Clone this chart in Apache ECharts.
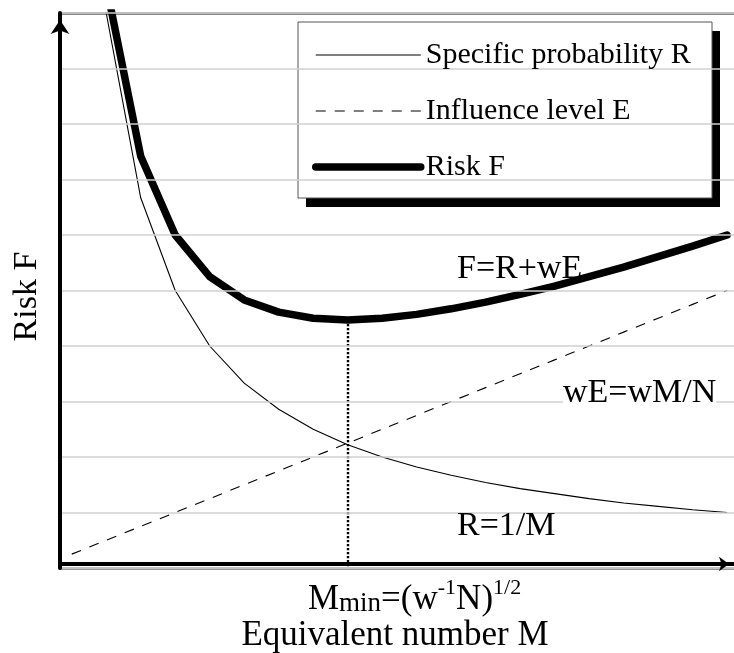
<!DOCTYPE html>
<html>
<head>
<meta charset="utf-8">
<script src="https://cdn.jsdelivr.net/npm/echarts@6.0.0/dist/echarts.min.js"></script>
<style>
html,body{margin:0;padding:0;background:#fff;}
#chart{width:734px;height:653px;}
</style>
</head>
<body>
<div id="chart"></div>
<script>
// Equivalent number M (sample points)
const M = [1, 2, 3, 4, 5, 6, 7, 8, 9, 10, 11, 12, 13, 14, 15, 16, 17, 18, 19, 20];
// Specific probability R
const R = [20, 10, 6.67, 5.0, 4.0, 3.33, 2.86, 2.5, 2.22, 2.0, 1.82, 1.67, 1.54, 1.43, 1.34, 1.25, 1.17, 1.11, 1.05, 1.0];
// Influence level E (weighted)
const E = [0.25, 0.5, 0.75, 1.0, 1.25, 1.5, 1.75, 2.0, 2.25, 2.5, 2.75, 3.0, 3.25, 3.5, 3.75, 4.0, 4.25, 4.5, 4.75, 5.0];
// Risk F
const F = [20.25, 10.5, 7.42, 6.0, 5.25, 4.83, 4.61, 4.5, 4.47, 4.5, 4.57, 4.67, 4.79, 4.93, 5.08, 5.25, 5.42, 5.61, 5.8, 6.0];

const seriesNames = ['Specific probability R', 'Influence level E', 'Risk F'];
const annotationTexts = ['F=R+wE', 'wE=wM/N', 'R=1/M'];
const yAxisTitle = 'Risk F';
const xAxisTitle = 'Equivalent number M';

const SERIF = '"Liberation Serif", "Times New Roman", serif';

let iMin = 0;
F.forEach((v, i) => { if (v < F[iMin]) iMin = i; });

const X_MIN = 0.66, X_MAX = 20.2;

const styleR = {color: '#000', width: 1.1};
const styleE = {color: '#000', width: 1.1, type: [10, 9]};
const styleF = {color: '#000', width: 7.5, cap: 'round', join: 'round'};
const hiddenItem = {color: 'rgba(0,0,0,0)', borderWidth: 0, borderColor: 'rgba(0,0,0,0)'};

const chart = echarts.init(document.getElementById('chart'), null, {renderer: 'canvas'});
const noAxisDecor = {axisTick: {show: false}, axisLabel: {show: false}, splitLine: {show: false}};

chart.setOption({
  animation: false,
  backgroundColor: '#fff',
  grid: {left: 60, right: 0, top: 13, bottom: 85, containLabel: false},
  xAxis: [
    Object.assign({
      type: 'value', min: X_MIN, max: X_MAX, position: 'bottom', offset: -4, z: 6,
      axisLine: {show: true, onZero: false, symbol: ['none', 'arrow'], symbolSize: [11, 10], symbolOffset: [0, -5],
        lineStyle: {color: '#000', width: 4}}
    }, noAxisDecor),
    Object.assign({
      type: 'value', min: X_MIN, max: X_MAX, position: 'bottom', offset: 0, z: 1,
      axisLine: {show: true, onZero: false, lineStyle: {color: '#999', width: 3}}
    }, noAxisDecor),
    Object.assign({
      type: 'value', min: X_MIN, max: X_MAX, position: 'top', offset: 0, z: 1,
      axisLine: {show: true, onZero: false, lineStyle: {color: '#888', width: 3}}
    }, noAxisDecor)
  ],
  yAxis: {
    type: 'value', min: 0, max: 10, interval: 1, position: 'left', z: 6,
    axisLine: {show: true, onZero: false, symbol: ['none', 'arrow'], symbolSize: [14, 14], symbolOffset: [0, -7],
      lineStyle: {color: '#000', width: 4}},
    axisTick: {show: false}, axisLabel: {show: false},
    splitLine: {show: true, lineStyle: {color: '#d0d0d0', width: 1.5}},
    name: yAxisTitle, nameLocation: 'middle', nameGap: 16, nameRotate: 90,
    nameTextStyle: {fontFamily: SERIF, fontSize: 34, color: '#000', padding: [0, 12, 0, 0]}
  },
  legend: {
    orient: 'vertical', left: 307, top: 35, itemWidth: 105, itemHeight: 14, itemGap: 26,
    selectedMode: false, z: 10, icon: 'inherit',
    textStyle: {fontFamily: SERIF, fontSize: 30, color: '#000', lineHeight: 30},
    data: [
      {name: seriesNames[0], icon: 'inherit', lineStyle: styleR, itemStyle: hiddenItem},
      {name: seriesNames[1], icon: 'inherit', lineStyle: styleE, itemStyle: hiddenItem},
      {name: seriesNames[2], icon: 'inherit', lineStyle: styleF, itemStyle: hiddenItem}
    ]
  },
  series: [
    {name: seriesNames[0], type: 'line', xAxisIndex: 0, data: M.map((m, i) => [m, R[i]]), symbol: 'none', z: 3,
      lineStyle: styleR, itemStyle: hiddenItem},
    {name: seriesNames[1], type: 'line', xAxisIndex: 0, data: M.map((m, i) => [m, E[i]]), symbol: 'none', z: 3,
      lineStyle: styleE, itemStyle: hiddenItem},
    {name: seriesNames[2], type: 'line', xAxisIndex: 0, data: M.map((m, i) => [m, F[i]]), symbol: 'none', z: 4,
      lineStyle: styleF, itemStyle: hiddenItem,
      markLine: {silent: true, symbol: 'none', label: {show: false}, z: 2,
        lineStyle: {color: '#000', width: 2.4, type: [2.4, 1.6]},
        data: [[{coord: [M[iMin], F[iMin]]}, {coord: [M[iMin], 0]}]]}}
  ],
  graphic: [
    {type: 'rect', z: 5, shape: {x: 306, y: 31, width: 414, height: 176}, style: {fill: '#000'}},
    {type: 'rect', z: 6, shape: {x: 298, y: 22, width: 414, height: 176}, style: {fill: '#fff', stroke: '#555', lineWidth: 1}},
    {type: 'text', z: 8, x: 457, y: 269, style: {text: annotationTexts[0], font: '34px ' + SERIF, fill: '#000',
      align: 'left', verticalAlign: 'middle', textAlign: 'left', textVerticalAlign: 'middle'}},
    {type: 'text', z: 8, x: 563, y: 393, style: {text: annotationTexts[1], font: '34px ' + SERIF, fill: '#000',
      backgroundColor: '#fff', align: 'left', verticalAlign: 'middle', textAlign: 'left', textVerticalAlign: 'middle'}},
    {type: 'text', z: 8, x: 457, y: 526, style: {text: annotationTexts[2], font: '34px ' + SERIF, fill: '#000',
      align: 'left', verticalAlign: 'middle', textAlign: 'left', textVerticalAlign: 'middle'}},
    {type: 'text', z: 8, x: 308, y: 597, style: {
      text: '{a|M}{b|min}{a|=(w}{c|-1}{a|N)}{c|1/2}',
      align: 'left', verticalAlign: 'middle', textAlign: 'left', textVerticalAlign: 'middle',
      rich: {
        a: {fontFamily: SERIF, fontSize: 35, fill: '#000', color: '#000', lineHeight: 40, verticalAlign: 'bottom'},
        b: {fontFamily: SERIF, fontSize: 27, fill: '#000', color: '#000', verticalAlign: 'bottom'},
        c: {fontFamily: SERIF, fontSize: 22, fill: '#000', color: '#000', verticalAlign: 'top'}
      }}},
    {type: 'text', z: 8, x: 395, y: 636, style: {text: xAxisTitle, font: '35px ' + SERIF, fill: '#000',
      align: 'center', verticalAlign: 'middle', textAlign: 'center', textVerticalAlign: 'middle'}}
  ]
});
</script>
</body>
</html>
